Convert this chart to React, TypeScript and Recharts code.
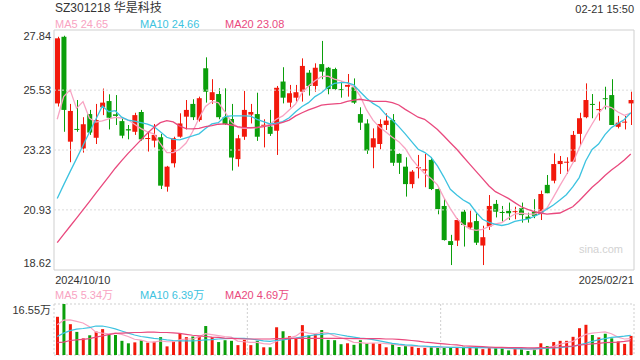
import { Bar, CartesianGrid, Cell, ComposedChart, Line, ReferenceLine, XAxis, YAxis } from "recharts";

const RED = "#f2190c";
const GREEN = "#0b9f0b";
const C_MA5 = "#f8a3c2";
const C_MA10 = "#3dc3e0";
const C_MA20 = "#e9497e";
const FONT = '"Liberation Sans", Arial, "Noto Sans CJK SC", sans-serif';

// daily candles, 2024/10/10 .. 2025/02/21
const open = [
  25.02, 27.58, 23.55, 24.04, 23.29, 24.61, 23.7, 24.87, 25.11, 24.6,
  24.34, 24.03, 23.93, 24.69, 23.67, 23.59, 23.72, 21.82, 22.72, 23.74,
  24.51, 25.0, 24.38, 26.37, 25.15, 25.38, 24.49, 24.42, 22.88, 23.74,
  24.59, 24.61, 24.17, 24.13, 23.97, 25.86, 25.05, 25.24, 25.47, 26.2,
  25.69, 26.53, 26.39, 26.34, 25.57, 25.66, 25.64, 24.61, 24.25, 23.33,
  23.46, 24.19, 24.38, 23.08, 22.59, 21.92, 22.55, 22.44, 22.85, 21.73,
  21.08, 19.73, 19.75, 20.86, 20.25, 20.5, 19.56, 20.29, 21.16, 20.85,
  20.89, 20.85, 20.99, 20.67, 20.86, 20.77, 21.89, 22.05, 22.69, 22.76,
  22.78, 23.85, 24.49, 25.0, 24.78, 25.22, 25.34, 24.12, 24.3, 25.02,
];
const high = [
  27.58, 27.62, 25.0, 25.15, 24.49, 24.77, 25.0, 25.59, 25.37, 25.34,
  24.49, 24.19, 24.66, 24.77, 23.93, 24.23, 23.85, 22.62, 23.74, 24.64,
  25.15, 25.18, 25.28, 26.79, 25.95, 25.6, 25.6, 25.0, 23.81, 25.5,
  25.0, 25.43, 24.41, 24.77, 25.69, 26.41, 25.73, 25.73, 26.75, 26.3,
  26.56, 27.42, 26.42, 26.39, 25.86, 26.15, 25.98, 24.87, 24.41, 24.06,
  24.41, 24.64, 24.61, 23.1, 22.95, 22.46, 23.04, 23.08, 22.95, 21.75,
  21.37, 19.97, 20.61, 20.93, 20.9, 20.8, 20.32, 21.5, 21.31, 21.08,
  21.21, 21.05, 21.21, 20.82, 21.34, 21.67, 22.27, 23.1, 23.0, 22.95,
  23.96, 24.66, 25.79, 25.38, 25.09, 25.66, 25.95, 24.54, 24.54, 25.47,
];
const low = [
  24.9, 23.93, 22.76, 23.93, 23.13, 23.81, 23.46, 24.57, 24.02, 24.19,
  23.68, 23.64, 23.81, 23.59, 23.17, 23.33, 21.73, 21.63, 22.56, 23.7,
  24.02, 24.38, 24.32, 25.05, 25.0, 24.41, 24.19, 22.44, 22.59, 23.62,
  24.25, 23.58, 23.33, 23.77, 23.04, 25.02, 24.87, 25.09, 25.09, 25.32,
  25.47, 25.95, 25.37, 25.53, 25.24, 25.28, 25.0, 24.0, 23.08, 22.53,
  23.26, 24.0, 22.62, 22.31, 21.44, 21.76, 22.14, 21.8, 21.69, 20.76,
  19.75, 18.81, 19.54, 19.52, 20.18, 19.58, 18.81, 20.16, 20.64, 20.48,
  20.54, 20.57, 20.44, 20.44, 20.61, 20.54, 21.57, 21.95, 22.31, 22.31,
  22.76, 23.42, 24.45, 24.45, 24.36, 24.79, 24.19, 24.06, 24.02, 24.19,
];
const close = [
  27.52, 24.77, 24.73, 24.01, 24.22, 23.9, 24.38, 25.05, 24.47, 24.54,
  23.78, 23.98, 24.57, 23.64, 23.69, 23.81, 21.86, 22.59, 23.68, 24.25,
  24.77, 24.49, 25.22, 25.47, 25.45, 24.49, 24.23, 22.94, 23.68, 24.77,
  24.69, 23.74, 24.2, 23.85, 25.62, 25.24, 25.41, 25.45, 26.46, 25.69,
  26.39, 26.24, 25.57, 25.57, 25.54, 25.73, 25.05, 24.28, 23.21, 23.68,
  24.23, 24.36, 22.74, 22.74, 21.92, 22.4, 22.57, 22.49, 21.73, 20.96,
  19.77, 19.58, 20.54, 20.35, 20.45, 19.67, 19.88, 21.08, 20.86, 20.81,
  20.8, 20.88, 20.73, 20.58, 20.7, 21.54, 21.57, 22.69, 22.81, 22.78,
  23.81, 24.45, 25.15, 24.98, 24.8, 25.2, 24.19, 24.28, 24.32, 25.15,
];
const ma5 = [
  24.41, 25.28, 25.54, 24.83, 25.09, 24.45, 24.3, 24.35, 24.43, 24.48,
  24.46, 24.38, 24.22, 24.05, 23.93, 23.85, 23.47, 23.13, 23.13, 23.26,
  23.5, 23.93, 24.45, 24.9, 25.09, 25.05, 24.7, 24.32, 24.1, 24.06,
  24.06, 24.09, 24.13, 24.22, 24.41, 24.54, 24.77, 25.0, 25.43, 25.69,
  25.89, 26.05, 26.07, 25.95, 25.89, 25.8, 25.66, 25.31, 24.77, 24.38,
  24.11, 23.92, 23.72, 23.55, 23.29, 22.89, 22.59, 22.33, 22.14, 21.89,
  21.4, 20.98, 20.6, 20.36, 20.2, 20.14, 20.18, 20.29, 20.39, 20.44,
  20.62, 20.77, 20.8, 20.77, 20.77, 20.86, 21.0, 21.42, 21.86, 22.28,
  22.73, 23.31, 23.8, 24.23, 24.64, 24.92, 24.86, 24.69, 24.56, 24.65,
];
const ma10 = [
  21.37, 21.89, 22.4, 22.9, 23.4, 23.91, 24.41, 24.92, 24.7, 24.74,
  24.49, 24.38, 24.34, 24.28, 24.22, 24.13, 23.93, 23.72, 23.64, 23.62,
  23.7, 23.77, 23.85, 24.06, 24.23, 24.28, 24.51, 24.54, 24.54, 24.54,
  24.53, 24.41, 24.32, 24.23, 24.26, 24.32, 24.47, 24.7, 24.9, 25.05,
  25.28, 25.43, 25.64, 25.79, 25.82, 25.82, 25.73, 25.47, 25.22, 25.02,
  24.87, 24.58, 24.38, 24.13, 23.85, 23.55, 23.26, 23.14, 22.95, 22.62,
  22.19, 21.72, 21.5, 21.31, 21.17, 20.84, 20.57, 20.45, 20.37, 20.33,
  20.38, 20.49, 20.54, 20.57, 20.68, 20.79, 20.96, 21.12, 21.31, 21.51,
  21.81, 22.17, 22.81, 23.25, 23.46, 23.82, 24.09, 24.25, 24.4, 24.66,
];
const ma20 = [
  19.67, 19.99, 20.3, 20.61, 20.93, 21.25, 21.57, 21.89, 22.21, 22.53,
  22.82, 23.1, 23.36, 23.62, 23.87, 24.1, 24.28, 24.36, 24.31, 24.15,
  24.05, 24.04, 24.06, 24.13, 24.17, 24.22, 24.23, 24.19, 24.13, 24.09,
  24.09, 24.1, 24.13, 24.18, 24.22, 24.29, 24.38, 24.54, 24.66, 24.77,
  24.86, 24.95, 24.98, 25.0, 25.02, 25.1, 25.15, 25.18, 25.14, 25.1,
  25.1, 25.1, 25.05, 24.96, 24.79, 24.64, 24.49, 24.41, 24.22, 24.02,
  23.77, 23.51, 23.26, 22.97, 22.69, 22.41, 22.13, 21.85, 21.63, 21.5,
  21.37, 21.21, 21.05, 20.95, 20.86, 20.81, 20.77, 20.79, 20.81, 20.93,
  21.05, 21.28, 21.54, 21.8, 22.01, 22.25, 22.46, 22.64, 22.85, 23.08,
];

// volume, 万手
const vol = [
  12.4, 16.55, 10.0, 7.5, 5.4, 6.4, 7.6, 8.4, 6.6, 6.5,
  4.6, 3.8, 4.1, 4.8, 4.0, 4.3, 5.8, 2.8, 4.4, 7.1,
  5.8, 6.0, 6.0, 9.4, 5.8, 4.2, 4.8, 4.6, 3.2, 4.9,
  3.2, 4.6, 2.5, 2.5, 9.0, 7.7, 6.1, 5.4, 9.7, 6.4,
  6.8, 8.1, 4.9, 4.8, 3.5, 3.8, 3.3, 4.8, 3.8, 3.8,
  3.6, 2.5, 3.6, 2.6, 2.9, 2.8, 2.3, 2.3, 2.6, 2.6,
  2.5, 2.3, 2.4, 2.7, 2.4, 2.4, 1.9, 2.4, 2.4, 2.2,
  1.5, 2.0, 1.9, 1.3, 2.0, 3.8, 2.9, 4.2, 4.6, 4.6,
  5.9, 8.7, 9.8, 6.5, 5.7, 6.9, 5.4, 4.4, 3.6, 6.2,
];
const volMa5 = [
  9.8, 11.3, 11.4, 10.9, 10.4, 9.2, 7.4, 7.1, 6.9, 7.1,
  6.7, 6.0, 5.1, 4.8, 4.3, 4.2, 4.6, 4.3, 4.3, 4.9,
  5.2, 5.2, 5.9, 6.9, 6.6, 6.3, 6.0, 5.8, 4.5, 4.3,
  4.1, 4.1, 3.7, 3.5, 4.4, 5.3, 5.6, 6.1, 7.6, 7.1,
  6.9, 7.3, 7.2, 6.2, 5.6, 5.0, 4.1, 4.0, 3.8, 3.9,
  3.9, 3.7, 3.5, 3.2, 3.0, 2.9, 2.8, 2.6, 2.6, 2.5,
  2.5, 2.5, 2.5, 2.5, 2.5, 2.4, 2.4, 2.4, 2.3, 2.3,
  2.1, 2.1, 2.0, 1.8, 1.7, 2.2, 2.4, 2.8, 3.5, 4.0,
  4.4, 5.6, 6.7, 7.1, 7.3, 7.5, 6.9, 5.8, 5.2, 5.34,
];
const volMa10 = [
  6.0, 7.1, 7.9, 8.4, 8.6, 8.9, 9.4, 9.4, 9.0, 8.5,
  7.8, 7.1, 6.5, 6.0, 5.7, 5.4, 5.2, 4.9, 4.7, 4.6,
  4.6, 4.6, 4.7, 4.9, 5.0, 5.2, 5.3, 5.4, 5.4, 5.4,
  5.2, 4.9, 4.6, 4.4, 4.7, 4.9, 5.2, 5.5, 5.9, 6.2,
  6.5, 6.7, 6.9, 6.9, 6.5, 6.1, 5.8, 5.5, 5.3, 5.0,
  4.6, 4.2, 3.8, 3.5, 3.3, 3.2, 3.0, 2.9, 2.7, 2.7,
  2.6, 2.5, 2.5, 2.4, 2.4, 2.4, 2.4, 2.4, 2.3, 2.3,
  2.2, 2.1, 2.1, 2.0, 2.1, 2.1, 2.2, 2.3, 2.4, 2.6,
  2.8, 3.3, 3.8, 4.4, 4.9, 5.3, 5.7, 5.9, 6.1, 6.39,
];
const volMa20 = [
  4.0, 4.2, 4.7, 4.9, 5.1, 5.3, 5.8, 6.2, 6.6, 7.0,
  7.1, 7.2, 7.3, 7.3, 7.4, 7.4, 7.3, 7.3, 7.2, 7.0,
  6.7, 6.4, 6.2, 6.0, 5.8, 5.7, 5.5, 5.4, 5.3, 5.2,
  5.2, 5.2, 5.2, 5.2, 5.3, 5.3, 5.4, 5.4, 5.4, 5.4,
  5.4, 5.4, 5.4, 5.4, 5.4, 5.4, 5.3, 5.3, 5.3, 5.3,
  5.3, 5.2, 5.2, 5.1, 4.9, 4.7, 4.5, 4.2, 4.0, 3.8,
  3.6, 3.4, 3.3, 3.0, 2.9, 2.8, 2.7, 2.6, 2.5, 2.5,
  2.4, 2.4, 2.4, 2.3, 2.3, 2.4, 2.4, 2.5, 2.6, 2.8,
  2.9, 3.2, 3.4, 3.6, 3.8, 4.0, 4.1, 4.2, 4.4, 4.69,
];

const priceTicks = [18.62, 20.93, 23.23, 25.53, 27.84];
const volTicks = [0, 16.55];
const dateLabels = ["2024/10/10", "2025/02/21"];

const rows = close.map((c, i) => ({
  i,
  open: open[i],
  high: high[i],
  low: low[i],
  close: c,
  ma5: ma5[i],
  ma10: ma10[i],
  ma20: ma20[i],
  vol: vol[i],
  vma5: volMa5[i],
  vma10: volMa10[i],
  vma20: volMa20[i],
}));
const last = rows.length - 1;

function Candle(props: any) {
  const { x, y, width, height } = props;
  const d = props.payload ?? props;
  const top = Math.min(y, y + height);
  const bot = Math.max(y, y + height);
  const span = d.high - d.low || 1;
  const py = (v: number) => top + ((d.high - v) / span) * (bot - top);
  const color = d.close >= d.open ? RED : GREEN;
  const cx = Math.round(x + width / 2) + 0.5;
  const b1 = py(Math.max(d.open, d.close));
  const b2 = py(Math.min(d.open, d.close));
  return (
    <g>
      <line x1={cx} x2={cx} y1={top} y2={bot} stroke={color} strokeWidth={1} />
      <rect x={x} y={b1} width={width} height={Math.max(1, b2 - b1)} fill={color} />
    </g>
  );
}

function PriceTick({ x, y, payload }: any) {
  const v = payload.value;
  let dy = 4;
  if (v === priceTicks[priceTicks.length - 1]) dy = 10;
  if (v === priceTicks[0]) dy = -3;
  return (
    <text x={x} y={y} dy={dy} textAnchor="end" fontSize={11} fill="#333" fontFamily={FONT}>
      {v.toFixed(2)}
    </text>
  );
}

function VolTick({ x, y, payload }: any) {
  const v = payload.value;
  const isTop = v === volTicks[1];
  return (
    <text x={x} y={y} dy={isTop ? 10 : -3} textAnchor="end" fontSize={11} fill="#333" fontFamily={FONT}>
      {isTop ? `${v.toFixed(2)}万` : "0"}
    </text>
  );
}

function DateTick({ x, y, payload }: any) {
  const first = payload.value === 0;
  return (
    <text
      x={first ? x - 2 : x + 3}
      y={y}
      dy={12}
      textAnchor={first ? "start" : "end"}
      fontSize={11}
      fill="#333"
      fontFamily={FONT}
    >
      {first ? dateLabels[0] : dateLabels[1]}
    </text>
  );
}

const txt = (left: number, top: number, color: string, size = 11): React.CSSProperties => ({
  position: "absolute",
  left,
  top,
  color,
  fontSize: size,
  lineHeight: "14px",
  fontFamily: FONT,
  whiteSpace: "nowrap",
});

export default function App() {
  return (
    <div style={{ position: "absolute", left: 0, top: 0, width: 640, height: 360, background: "#fff" }}>
      <div style={txt(55, 1, "#333", 12)}>SZ301218 华是科技</div>
      <div style={{ ...txt(0, 2, "#333"), left: "auto", right: 6 }}>02-21 15:50</div>
      <div style={txt(55, 17, C_MA5)}>MA5 24.65</div>
      <div style={txt(140, 17, C_MA10)}>MA10 24.66</div>
      <div style={txt(225, 17, C_MA20)}>MA20 23.08</div>

      <div style={{ position: "absolute", left: 0, top: 0 }}>
        <ComposedChart width={640} height={290} data={rows} margin={{ top: 30, right: 6, bottom: 0, left: 0 }}>
          <CartesianGrid
            stroke="#cfcfcf"
            horizontalCoordinatesGenerator={({ offset }: any) => (offset ? [offset.top, offset.top + offset.height] : [])}
            verticalCoordinatesGenerator={({ offset }: any) => (offset ? [offset.left, offset.left + offset.width] : [])}
          />
          {priceTicks.slice(1, -1).map((v) => (
            <ReferenceLine key={v} y={v} stroke="#dcdcdc" strokeDasharray="2 2" />
          ))}
          <XAxis
            dataKey="i"
            height={20}
            ticks={[0, last]}
            tick={<DateTick />}
            tickLine={false}
            axisLine={false}
            tickSize={0}
            interval={0}
          />
          <YAxis
            width={54}
            domain={[priceTicks[0], priceTicks[priceTicks.length - 1]]}
            allowDataOverflow
            ticks={priceTicks}
            tick={<PriceTick />}
            tickLine={false}
            axisLine={false}
            tickSize={0}
            tickMargin={3}
          />
          <Bar dataKey={(d: any) => [d.low, d.high]} barSize={5} shape={<Candle />} isAnimationActive={false} />
          <Line dataKey="ma5" stroke={C_MA5} strokeWidth={1.3} dot={false} isAnimationActive={false} />
          <Line dataKey="ma10" stroke={C_MA10} strokeWidth={1.3} dot={false} isAnimationActive={false} />
          <Line dataKey="ma20" stroke={C_MA20} strokeWidth={1.3} dot={false} isAnimationActive={false} />
        </ComposedChart>
      </div>

      <div style={{ ...txt(0, 0, "#d2d2d2"), left: "auto", right: 17, top: 242 }}>sina.com</div>

      <div style={txt(55, 288, C_MA5)}>MA5 5.34万</div>
      <div style={txt(140, 288, C_MA10)}>MA10 6.39万</div>
      <div style={txt(225, 288, C_MA20)}>MA20 4.69万</div>

      <div style={{ position: "absolute", left: 0, top: 290 }}>
        <ComposedChart width={640} height={70} data={rows} margin={{ top: 14, right: 6, bottom: 5, left: 0 }}>
          <CartesianGrid
            stroke="#cfcfcf"
            strokeDasharray="2 2"
            horizontalCoordinatesGenerator={({ offset }: any) => (offset ? [offset.top, offset.top + offset.height] : [])}
            verticalCoordinatesGenerator={({ offset }: any) =>
              offset
                ? [0, 1, 2, 3].map((k) => offset.left + (offset.width * k) / 3)
                : []
            }
          />
          <XAxis dataKey="i" hide />
          <YAxis
            width={54}
            domain={[0, volTicks[1]]}
            allowDataOverflow
            ticks={volTicks}
            tick={<VolTick />}
            tickLine={false}
            axisLine={false}
            tickSize={0}
            tickMargin={3}
          />
          <Bar dataKey="vol" barSize={3} isAnimationActive={false}>
            {rows.map((r) => (
              <Cell key={r.i} fill={r.close >= r.open ? RED : GREEN} />
            ))}
          </Bar>
          <Line dataKey="vma5" stroke={C_MA5} strokeWidth={1.2} dot={false} isAnimationActive={false} />
          <Line dataKey="vma10" stroke={C_MA10} strokeWidth={1.2} dot={false} isAnimationActive={false} />
          <Line dataKey="vma20" stroke={C_MA20} strokeWidth={1.2} dot={false} isAnimationActive={false} />
        </ComposedChart>
      </div>
    </div>
  );
}
